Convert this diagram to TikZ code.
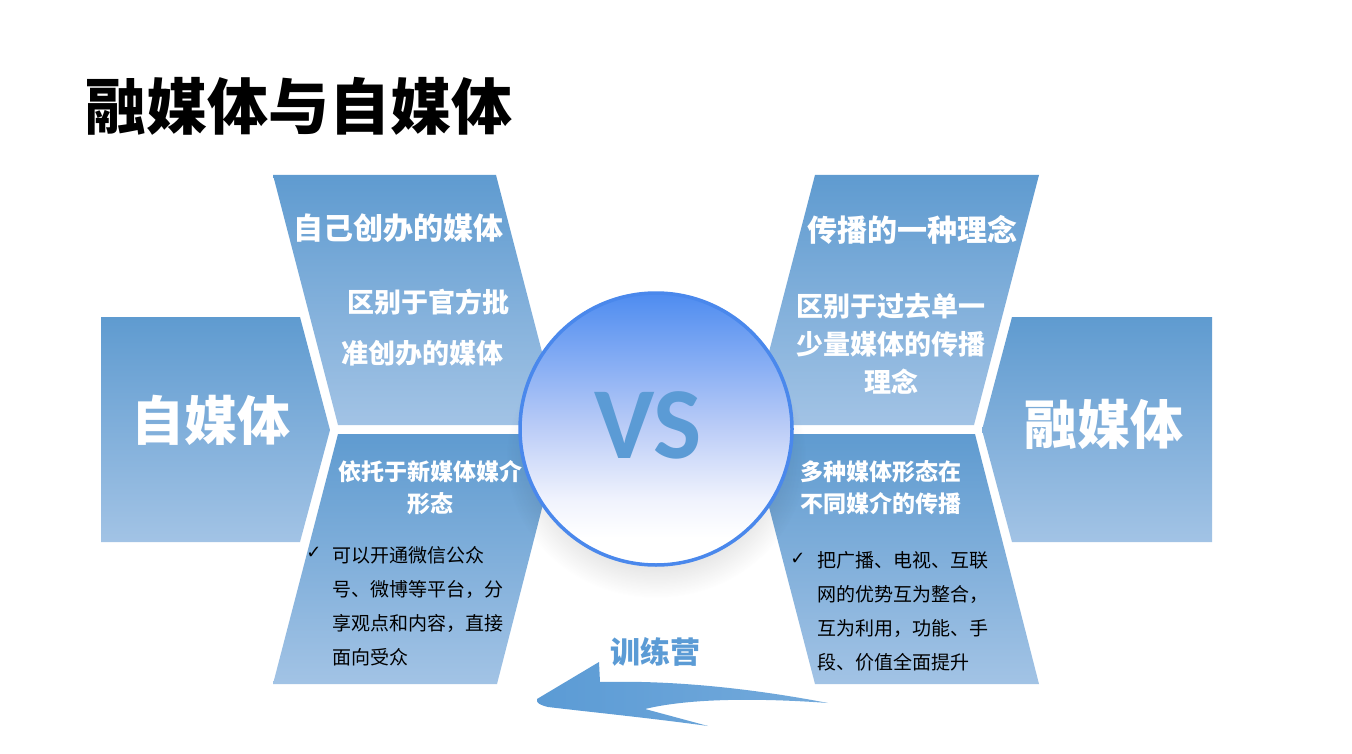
\documentclass[tikz,border=0pt]{standalone}
\usepackage{fontspec}
\setmainfont{Noto Sans CJK SC}
\newfontfamily\checkfont{DejaVu Sans}
\newfontfamily\vsfont{Carlito}
\usetikzlibrary{fadings}
\definecolor{gtop}{HTML}{5F9BD0}
\definecolor{gbot}{HTML}{A2C3E5}
\definecolor{accent}{HTML}{5B9BD5}
\definecolor{ringc}{HTML}{4A88EC}
\definecolor{balltop}{HTML}{4E8CF0}
\definecolor{ballmid}{HTML}{BCCDF7}
\definecolor{balllow}{HTML}{F0F3FD}
\tikzfading[name=softspot,inner color=transparent!0,middle color=transparent!0,outer color=transparent!100]
\pgfdeclareverticalshading{vsball}{100bp}{
  color(0bp)=(white); color(30bp)=(white); color(37bp)=(balllow);
  color(50bp)=(ballmid); color(75bp)=(balltop); color(100bp)=(balltop)}
\newcommand{\fs}[2]{\fontsize{#1pt}{#2pt}\selectfont}
\tikzset{
  panel/.style={top color=gtop,bottom color=gbot,draw=none},
  headtext/.style={text=white,font=\bfseries\fs{#1}{#1},align=center,inner sep=0pt},
  bodytext/.style={text=black,font=\fs{19}{34},align=left,inner sep=0pt,anchor=west},
  ticktext/.style={text=black,font=\checkfont\bfseries\fs{18}{18},inner sep=0pt},
}
\begin{document}
\begin{tikzpicture}[x=1pt,y=-1pt]
\useasboundingbox (0,0) rectangle (1352,754);
\fill[white] (0,0) rectangle (1352,754);
% panels
\path[panel] (101,317) -- (300,317) -- (330,430) -- (300,542) -- (101,542) -- cycle;
\path[panel] (273,175) -- (496,175) -- (561,425) -- (338,425) -- cycle;
\path[panel] (338,434) -- (561,434) -- (497,684) -- (273,684) -- cycle;
\path[panel] (815,175) -- (1039,175) -- (974,425) -- (750,425) -- cycle;
\path[panel] (750,434) -- (975,434) -- (1039,684) -- (815,684) -- cycle;
\path[panel] (1012,317) -- (1212,317) -- (1212,542) -- (1012,542) -- (982,430) -- cycle;
% circle shadow
\fill[black,opacity=0.42,path fading=softspot,fit fading=true] (656,458) ellipse [x radius=150,y radius=140];
% circle
\path[shading=vsball,draw=ringc,line width=3.5pt] (656,429) circle [radius=136];
% texts
\node[inner sep=0pt,text=black,font=\bfseries\fs{61}{61}] (title) at (298.500,106) {融媒体与自媒体};
\node[headtext=53] (zmt) at (211,420) {自媒体};
\node[headtext=53] (rmt) at (1104,424) {融媒体};
\node[headtext=30] (tl1) at (398,228) {自己创办的媒体};
\node[headtext=27] (tl2) at (428,302) {区别于官方批};
\node[headtext=27] (tl3) at (422.500,353) {准创办的媒体};
\node[headtext=30] (tr1) at (912,230) {传播的一种理念};
\node[headtext=27] (tr2) at (891,306) {区别于过去单一};
\node[headtext=27] (tr3) at (891,344) {少量媒体的传播};
\node[headtext=27] (tr4) at (891,382) {理念};
\node[headtext=23] (bl1) at (430,472) {依托于新媒体媒介};
\node[headtext=23] (bl2) at (430,504) {形态};
\node[headtext=23] (br1) at (881,472) {多种媒体形态在};
\node[headtext=23] (br2) at (881,504) {不同媒介的传播};
\node[ticktext] (tickl) at (314,553) {✓};
\node[bodytext] (bodyl) at (332,606) {可以开通微信公众\\号、微博等平台，分\\享观点和内容，直接\\面向受众};
\node[ticktext] (tickr) at (798,559) {✓};
\node[bodytext] (bodyr) at (817,611) {把广播、电视、互联\\网的优势互为整合，\\互为利用，功能、手\\段、价值全面提升};
\node[inner sep=0pt,text=accent,font=\vsfont\bfseries\fs{102}{102}] (vs) at (648,425) {VS};
\node[inner sep=0pt,text=accent,font=\bfseries\fs{30}{30}] (camp) at (655.500,652) {训练营};
% arrow
\path[left color=accent,right color=accent!85!white]
  (599,662) -- (600,682)
  .. controls (680,680) and (760,690) .. (828,703)
  .. controls (760,698) and (690,698) .. (645,709)
  -- (708,726)
  .. controls (650,718) and (590,712) .. (548,707)
  .. controls (540,705) and (536,703) .. (537,699)
  -- cycle;
\end{tikzpicture}
\end{document}
